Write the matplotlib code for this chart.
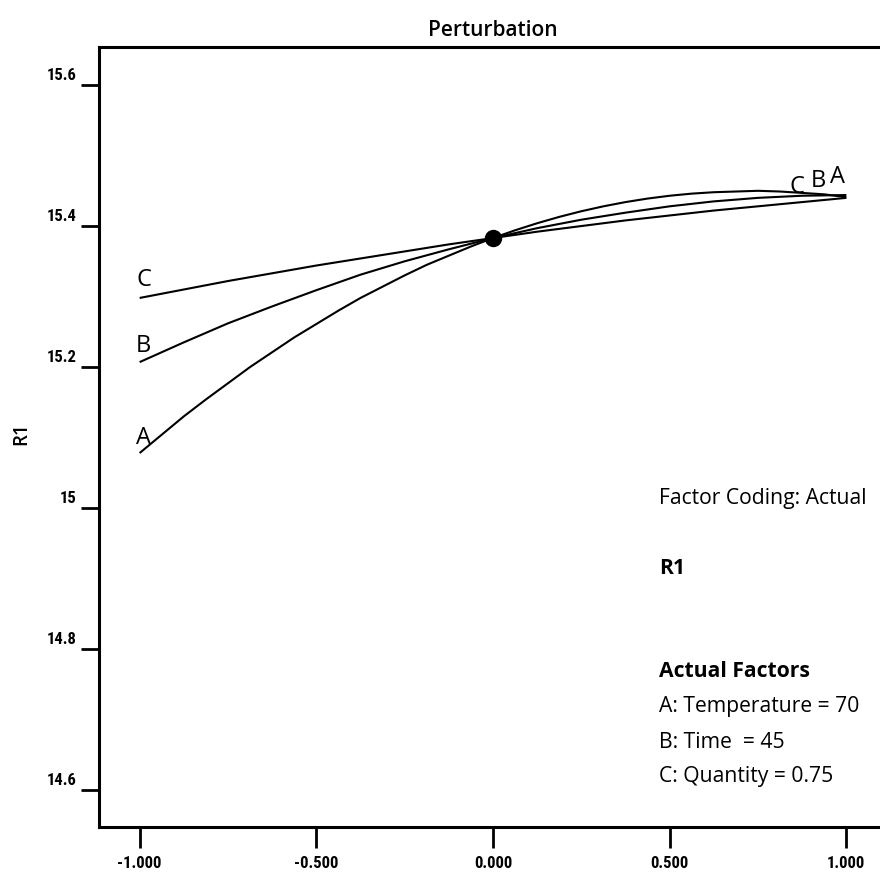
import matplotlib
matplotlib.use("Agg")
import matplotlib.pyplot as plt
from matplotlib import font_manager
import matplotlib.transforms as mtransforms

# Deviation from reference point (coded units)
x_dev_A = [-1.0, -0.9375, -0.875, -0.8125, -0.75, -0.6875, -0.625, -0.5625, -0.5,
           -0.4375, -0.375, -0.3125, -0.25, -0.1875, -0.125, -0.0625, 0.0,
           0.0625, 0.125, 0.1875, 0.25, 0.3125, 0.375, 0.4375, 0.5,
           0.5625, 0.625, 0.6875, 0.75, 0.8125, 0.875, 0.9375, 1.0]
x_dev = [-1.0, -0.875, -0.75, -0.625, -0.5, -0.375, -0.25, -0.125, 0.0,
         0.125, 0.25, 0.375, 0.5, 0.625, 0.75, 0.875, 1.0]

# R1 values
r1_A = [15.078, 15.104, 15.130, 15.154, 15.177, 15.200, 15.221, 15.242, 15.261,
        15.280, 15.298, 15.314, 15.330, 15.345, 15.358, 15.371, 15.383,
        15.394, 15.404, 15.413, 15.421, 15.428, 15.434, 15.439, 15.443,
        15.446, 15.448, 15.449, 15.450, 15.449, 15.447, 15.445, 15.441]
r1_B = [15.207, 15.235, 15.262, 15.286, 15.309, 15.331, 15.350, 15.367, 15.383,
        15.397, 15.409, 15.419, 15.428, 15.435, 15.440, 15.443, 15.444]
r1_C = [15.298, 15.310, 15.322, 15.333, 15.344, 15.354, 15.364, 15.374, 15.383,
        15.392, 15.400, 15.408, 15.415, 15.422, 15.428, 15.434, 15.440]

series_names = ["A", "B", "C"]
series_x = [x_dev_A, x_dev, x_dev]
series_vals = [r1_A, r1_B, r1_C]

ref_x = 0.0
ref_y = 15.383

x_ticks = [-1.0, -0.5, 0.0, 0.5, 1.0]
x_tick_labels = ["-1.000", "-0.500", "0.000", "0.500", "1.000"]
y_ticks = [14.6, 14.8, 15.0, 15.2, 15.4, 15.6]
y_tick_labels = ["14.6", "14.8", "15", "15.2", "15.4", "15.6"]

info_lines = [
    ("Factor Coding: Actual", "normal"),
    ("R1", "bold"),
    ("Actual Factors", "bold"),
    ("A: Temperature = 70", "normal"),
    ("B: Time  = 45", "normal"),
    ("C: Quantity = 0.75", "normal"),
]

plt.rcParams['font.family'] = ['Open Sans', 'DejaVu Sans']

# find a condensed/narrow sans font for tick labels if one is installed
cands = []
for f in font_manager.fontManager.ttflist:
    nm = (f.name + " " + f.fname).lower()
    if "serif" in f.name.lower() or "mono" in nm:
        continue
    if ("condensed" in nm or "narrow" in nm or str(f.stretch) in ("condensed", "semi-condensed")):
        score = 0
        fl = f.fname.lower()
        if "bold" in fl and "extrabold" not in fl and "semibold" not in fl:
            score += 3
        elif "semibold" in fl or "medium" in fl:
            score += 2
        if "italic" in fl or "oblique" in fl or f.style != "normal":
            score -= 10
        if "light" in fl or "thin" in fl or "extra" in fl or "black" in fl:
            score -= 4
        cands.append((score, f.fname))
if cands:
    cands.sort(reverse=True)
    tick_fp = font_manager.FontProperties(fname=cands[0][1], size=12)
else:
    tick_fp = font_manager.FontProperties(family="Open Sans", weight="bold", size=10.5)

fig = plt.figure(figsize=(8.8, 8.74), dpi=100)
ax = fig.add_axes([99/880, 47/874, 788/880, 780/874])
ax.set_xlim(-1.115, 1.115)
ax.set_ylim(14.5475, 15.654)

for name, xs, vals in zip(series_names, series_x, series_vals):
    ax.plot(xs, vals, color="black", lw=1.5, solid_capstyle="butt",
            solid_joinstyle="round", clip_on=False)

ax.plot([ref_x], [ref_y], "o", color="black", markersize=11.5, zorder=5)

# Curve labels at left end
left_offsets = {"A": 0.0215, "B": 0.023, "C": 0.025}
for name, vals in zip(series_names, series_vals):
    ax.text(x_dev[0] - 0.01, vals[0] + left_offsets[name], name, fontsize=17,
            ha="left", va="center", color="black")

# Curve labels at right end
right_pos = {"C": (0.86, 15.455), "B": (0.92, 15.464), "A": (0.975, 15.470)}
for name in ["C", "B", "A"]:
    xx, yy = right_pos[name]
    ax.text(xx, yy, name, fontsize=17, ha="center", va="center", color="black")

ax.set_xticks(x_ticks)
ax.set_xticklabels(x_tick_labels)
ax.set_yticks(y_ticks)
ax.set_yticklabels(y_tick_labels)
ax.tick_params(axis="x", direction="out", length=15, width=2, pad=6)
ax.tick_params(axis="y", direction="out", length=13, width=2, pad=3)
for lbl in ax.get_xticklabels() + ax.get_yticklabels():
    lbl.set_fontproperties(tick_fp)

# y tick labels sit slightly above their ticks in the reference
up = mtransforms.ScaledTranslation(0, 11/100, fig.dpi_scale_trans)
for lbl in ax.get_yticklabels():
    lbl.set_transform(lbl.get_transform() + up)

for sp in ax.spines.values():
    sp.set_linewidth(2.2)

ax.set_title("Perturbation", fontsize=15, fontweight="semibold", pad=8)
fig.text(21/880, 1 - 434/874, "R1", rotation=90, fontsize=13.5, fontweight="semibold",
         ha="center", va="center")

info_base = [504, 574, 677, 712, 748, 782]
for (txt, wt), yy in zip(info_lines, info_base):
    fig.text(659/880, 1 - yy/874, txt, fontsize=15.2, fontweight=wt,
             ha="left", va="baseline")

fig.savefig("out.png", dpi=100)
